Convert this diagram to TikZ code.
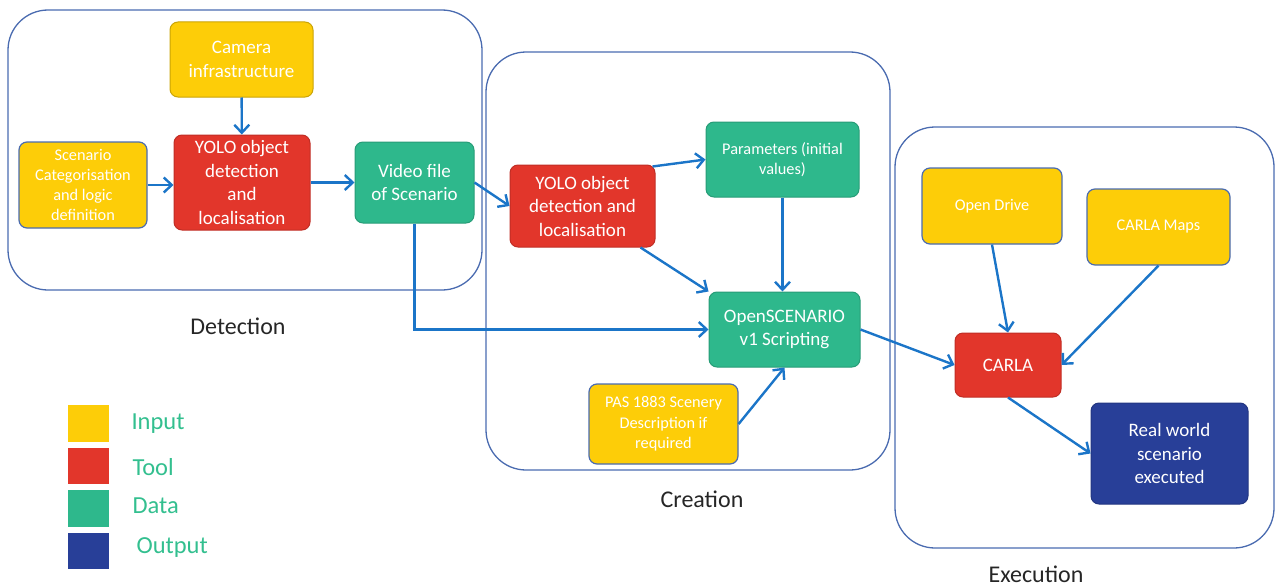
\documentclass[tikz,border=0pt]{standalone}
\usepackage{fontspec}
\setmainfont{Carlito}
\usetikzlibrary{positioning}
\usetikzlibrary{arrows.meta}
\definecolor{inyellow}{HTML}{FDCD08}
\definecolor{toolred}{HTML}{E2362B}
\definecolor{datagreen}{HTML}{2EB88C}
\definecolor{outblue}{HTML}{283F98}
\definecolor{arrowblue}{HTML}{1B75C8}
\definecolor{groupline}{HTML}{4A6BB0}
\definecolor{legendtext}{HTML}{33BF8F}

\begin{document}
\begin{tikzpicture}[%
  x=1pt, y=-1pt,
  >={Straight Barb[length=8pt,width=15pt,line width=2.4pt]},
  group/.style={draw=groupline, line width=1.3pt, rounded corners=40pt},
  box/.style={rounded corners=8pt, text=white, align=center, inner sep=2pt,
    font=\fontsize{19}{23.5}\selectfont},
  smalltext/.style={font=\fontsize{16.3}{20.3}\selectfont},
  input/.style={box, fill=inyellow, draw=inyellow!80!black, line width=1pt},
  inputb/.style={box, fill=inyellow, draw=groupline, line width=1.2pt},
  tool/.style={box, fill=toolred, draw=toolred!85!black, line width=1pt},
  data/.style={box, fill=datagreen, draw=datagreen!85!black, line width=1pt},
  output/.style={box, fill=outblue, draw=outblue!85!black, line width=1pt},
  flow/.style={->, arrowblue, line width=2.4pt},
  caption/.style={font=\fontsize{24}{28}\selectfont, text=black!85},
  legsq/.style={minimum width=43pt, minimum height=38pt, inner sep=0pt,
    draw=white, line width=1.5pt},
  legtext/.style={anchor=west, text=legendtext, font=\fontsize{24.5}{28}\selectfont},
]
  \useasboundingbox (0,0) rectangle (1282,586);

  % stage frames
  \draw[group] (8,10) rectangle (482,290);
  \draw[group] (486,52) rectangle (890,470);
  \draw[group] (895,127) rectangle (1274,548);
  \node[caption] (lbldet) at (238,326) {Detection};
  \node[caption] (lblcre) at (702,499) {Creation};
  \node[caption] (lblexe) at (1036,574) {Execution};

  % detection
  \node[input, minimum width=143pt, minimum height=75pt] (camera) at (241.5,59.5)
    {Camera\\infrastructure};
  \node[inputb, smalltext, minimum width=128pt, minimum height=86pt]
    (scen) at (83,185) {Scenario\\Categorisation\\and logic\\definition};
  \node[tool, minimum width=136pt, minimum height=95pt] (yolo1) at (242,182.5)
    {YOLO object\\detection\\and\\localisation};
  \node[data, minimum width=119pt, minimum height=81pt] (video) at (414.5,182.5)
    {Video file\\of Scenario};

  % creation
  \node[tool, minimum width=145pt, minimum height=82pt] (yolo2) at (582.5,206)
    {YOLO object\\detection and\\localisation};
  \node[data, smalltext, minimum width=153pt, minimum height=75pt]
    (params) at (782.5,159.5) {Parameters (initial\\values)};
  \node[data, minimum width=151pt, minimum height=75pt] (osc) at (784.5,329.5)
    {OpenSCENARIO\\v1 Scripting};
  \node[inputb, smalltext, minimum width=149pt, minimum height=80pt]
    (pas) at (663.5,424) {PAS 1883 Scenery\\Description if\\required};

  % execution
  \node[inputb, smalltext, minimum width=140pt, minimum height=76pt]
    (odrive) at (992,206) {Open Drive};
  \node[inputb, smalltext, minimum width=143pt, minimum height=76pt]
    (cmaps) at (1158.5,227) {CARLA Maps};
  \node[tool, minimum width=106pt, minimum height=64pt] (carla) at (1008,365) {CARLA};
  \node[output, minimum width=157pt, minimum height=101pt] (real) at (1169.5,453.5)
    {Real world\\scenario\\executed};

  % connectors
  \draw[flow] (camera) -- (yolo1);
  \draw[flow] (scen) -- (yolo1.west |- scen);
  \draw[flow] (yolo1) -- (video);
  \draw[flow] (video.east) -- (yolo2.west);
  \draw[flow] (video.south) |- (osc.west);
  \draw[flow] (yolo2.north east) ++(-3,2) -- (params.west);
  \draw[flow] (yolo2.south east) ++(-15,0) -- (osc.north west);
  \draw[flow] (params) -- (osc.north -| params);
  \draw[flow] (pas.east) -- (osc.south);
  \draw[flow] (osc.east) -- (carla.west);
  \draw[flow] (odrive.south) -- (carla.north);
  \draw[flow] (cmaps.south) -- (carla.east);
  \draw[flow] (carla.south) -- (real.west);

  % legend
  \node[legsq, fill=inyellow] (kin) at (88.5,423.5) {};
  \node[legsq, fill=toolred, below=3pt of kin] (ktool) {};
  \node[legsq, fill=datagreen, below=3pt of ktool] (kdata) {};
  \node[legsq, fill=outblue, below=3pt of kdata] (kout) {};
  \node[legtext] (tin) at (128,424) {Input};
  \node[legtext] (ttool) at (129,467) {Tool};
  \node[legtext] (tdata) at (129,506) {Data};
  \node[legtext] (tout) at (133,548) {Output};

\end{tikzpicture}
\end{document}
